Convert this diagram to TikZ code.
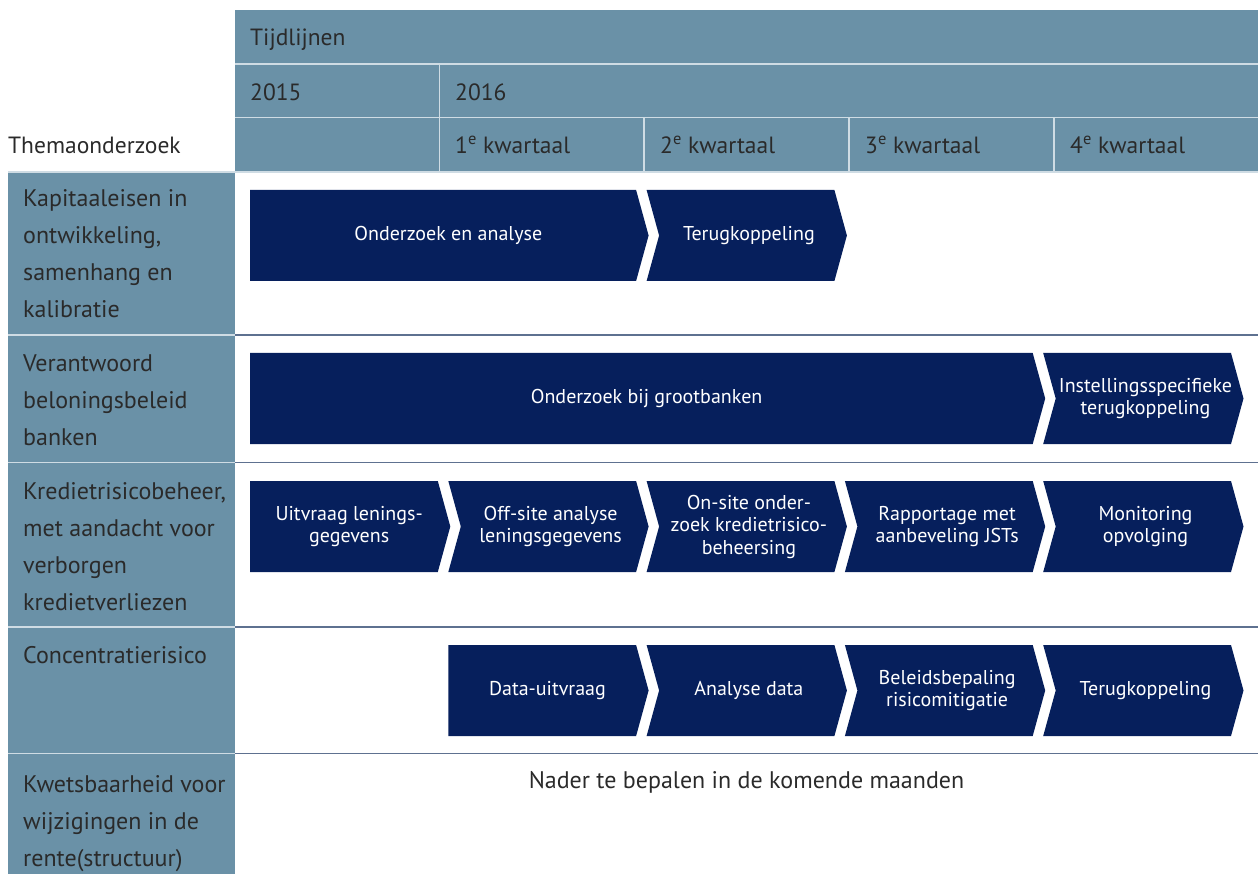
\documentclass[tikz,border=0pt]{standalone}
\usepackage{fontspec}
\setmainfont{PT Sans}
\usetikzlibrary{positioning}

\definecolor{steel}{HTML}{6A91A7}
\definecolor{navy}{HTML}{061F5C}
\definecolor{ink}{HTML}{2A2A2A}
\definecolor{rule}{HTML}{5E7190}
\definecolor{pale}{HTML}{CFDCE4}

\tikzset{
  hdr/.style={fill=steel},
  sep/.style={pale, line width=1.5pt},
  rowline/.style={rule, line width=1.5pt},
  hdrtxt/.style={anchor=base west, inner sep=0pt, text=ink,
    font=\fontsize{23.5}{28}\selectfont},
  lab/.style={anchor=base west, inner sep=0pt, align=left, text=ink,
    font=\fontsize{24}{37}\selectfont},
  chev/.style={fill=navy},
  chevtxt/.style={text=white, align=center, inner sep=0pt,
    font=\fontsize{20}{22.5}\selectfont}
}

% name, notch, left x, tip x, top y, text
\newcommand{\chevron}[6]{%
  \fill[chev] (#3,#5) -- ({#4-10.5},#5) -- ({#4+2},{#5+45.5})
    -- ({#4-10.5},{#5+91}) -- (#3,{#5+91}) -- ({#3+#2},{#5+45.5}) -- cycle;
  \node[chevtxt] (#1) at ({(#3+#2/2+#4)/2},{#5+45.5}) {#6};}

\begin{document}
\begin{tikzpicture}[x=1pt,y=-1pt]
  \useasboundingbox (0,0) rectangle (1258,874);
  % header and theme column
  \fill[hdr] (235,10) rectangle (1258,171.5);
  \fill[hdr] (8,171.5) rectangle (235,874);
  \draw[sep] (235,64) -- (1258,64); \draw[sep] (235,117.7) -- (1258,117.7);
  \draw[sep] (439.5,64) -- (439.5,171.5);
  \foreach \x in {644,849,1054} \draw[sep] (\x,117.7) -- (\x,171.5);
  \draw[sep] (8,171.8) -- (1258,171.8);
  \foreach \y in {335,462.5,627,753.5} {
    \draw[sep] (8,\y) -- (235,\y); \draw[rowline] (235,\y) -- (1258,\y);}

  \node[hdrtxt] (tijd) at (250,46) {Tijdlijnen};
  \node[hdrtxt] (y15) at (250,101) {2015};
  \node[hdrtxt] (y16) at (455,101) {2016};
  \node[hdrtxt] (thema) at (8,154) {Themaonderzoek};
  \node[hdrtxt] (q1) at (455,154) {1\textsuperscript{e} kwartaal};
  \node[hdrtxt] (q2) at (660,154) {2\textsuperscript{e} kwartaal};
  \node[hdrtxt] (q3) at (865,154) {3\textsuperscript{e} kwartaal};
  \node[hdrtxt] (q4) at (1070,154) {4\textsuperscript{e} kwartaal};

  % base anchor sits on the last line
  \node[lab] (l1) at (23,318) {Kapitaaleisen in\\ontwikkeling,\\samenhang en\\kalibratie};
  \node[lab] (l2) at (23,445) {Verantwoord\\beloningsbeleid\\banken};
  \node[lab] (l3) at (23,610) {Kredietrisicobeheer,\\met aandacht voor\\verborgen\\kredietverliezen};
  \node[lab] (l4) at (23,663) {Concentratierisico};
  \node[lab] (l5) at (23,866) {Kwetsbaarheid voor\\wijzigingen in de\\rente(structuur)};

  % timelines
  \chevron{ka}{0}{250}{646.6}{190}{Onderzoek en analyse}
  \chevron{kb}{12.5}{646.6}{844.9}{190}{Terugkoppeling}
  \chevron{ba}{0}{250}{1043.2}{353}{Onderzoek bij grootbanken}
  \chevron{bb}{12.5}{1043.2}{1241.5}{353}{Instellingsspecifieke\\terugkoppeling}
  \chevron{ra}{0}{250}{448.3}{481}{Uitvraag lenings-\\gegevens}
  \chevron{rb}{12.5}{448.3}{646.6}{481}{Off-site analyse\\leningsgegevens}
  \chevron{rc}{12.5}{646.6}{844.9}{481}{On-site onder-\\zoek kredietrisico-\\beheersing}
  \chevron{rd}{12.5}{844.9}{1043.2}{481}{Rapportage met\\aanbeveling JSTs}
  \chevron{re}{12.5}{1043.2}{1241.5}{481}{Monitoring\\opvolging}
  \chevron{ca}{0}{448.3}{646.6}{645}{Data-uitvraag}
  \chevron{cb}{12.5}{646.6}{844.9}{645}{Analyse data}
  \chevron{cc}{12.5}{844.9}{1043.2}{645}{Beleidsbepaling\\risicomitigatie}
  \chevron{cd}{12.5}{1043.2}{1241.5}{645}{Terugkoppeling}

  \node[text=ink, inner sep=0pt, font=\fontsize{24}{28}\selectfont] (nader)
    at (746.5,782) {Nader te bepalen in de komende maanden};
\end{tikzpicture}
\end{document}
